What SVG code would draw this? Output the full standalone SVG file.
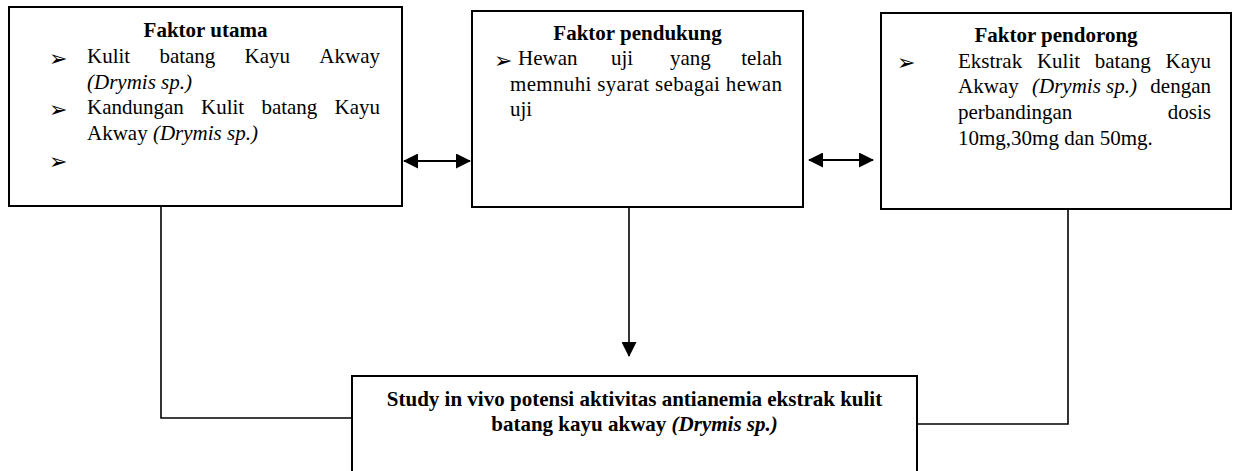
<svg xmlns="http://www.w3.org/2000/svg" width="1236" height="471" viewBox="0 0 1236 471">
<style>
.box{fill:#fff;stroke:#000;stroke-width:2}
.t{font-family:"Liberation Serif","Times New Roman",serif;font-size:21px;fill:#000}
.b{font-weight:bold}
.i{font-style:italic}
.m{text-anchor:middle}
.e{text-anchor:end}
.bul{font-family:"DejaVu Sans",sans-serif;font-size:22px;fill:#000}
.c{fill:none;stroke:#000;stroke-width:1.6}
.a{fill:none;stroke:#000;stroke-width:2}
</style>
<defs>
<marker id="ah" viewBox="0 0 15 15" refX="14" refY="7.5" markerWidth="15" markerHeight="15" orient="auto-start-reverse" markerUnits="userSpaceOnUse">
<path d="M0,0 L15,7.5 L0,15 z" fill="#000"/>
</marker>
</defs>
<g id="connectors">
<polyline class="c" points="161,206 161,418 352,418"/>
<polyline class="c" points="1068,209 1068,424 917,424"/>
<line class="c" x1="629" y1="207" x2="629" y2="356" marker-end="url(#ah)"/>
<line class="a" x1="404" y1="161" x2="470" y2="161" marker-start="url(#ah)" marker-end="url(#ah)"/>
<line class="a" x1="809" y1="160" x2="873" y2="160" marker-start="url(#ah)" marker-end="url(#ah)"/>
</g>
<g id="faktor-utama">
<rect class="box" x="9" y="7" width="393" height="199"/>
<text class="t b m" x="205.5" y="37">Faktor utama</text>
<text class="bul" x="49" y="65.6">➢</text>
<text class="t" x="87" y="63">Kulit</text>
<text class="t" x="159.4" y="63">batang</text>
<text class="t" x="244.6" y="63">Kayu</text>
<text class="t e" x="380" y="63">Akway</text>
<text class="t i" x="87" y="88.5">(Drymis sp.)</text>
<text class="bul" x="49" y="116.6">➢</text>
<text class="t" x="87" y="114">Kandungan</text>
<text class="t" x="201" y="114">Kulit</text>
<text class="t" x="261.4" y="114">batang</text>
<text class="t e" x="380" y="114">Kayu</text>
<text class="t" x="87" y="139.5">Akway <tspan class="i">(Drymis sp.)</tspan></text>
<text class="bul" x="49" y="168.5">➢</text>
</g>
<g id="faktor-pendukung">
<rect class="box" x="472" y="11" width="331" height="196"/>
<text class="t b m" x="637.5" y="40">Faktor pendukung</text>
<text class="bul" x="494" y="67.6">➢</text>
<text class="t" x="518" y="65">Hewan</text>
<text class="t" x="611" y="65">uji</text>
<text class="t" x="670" y="65">yang</text>
<text class="t e" x="782" y="65">telah</text>
<text class="t" x="510" y="90.5" textLength="272" lengthAdjust="spacing">memnuhi syarat sebagai hewan</text>
<text class="t" x="510" y="116">uji</text>
</g>
<g id="faktor-pendorong">
<rect class="box" x="881" y="13" width="350" height="196"/>
<text class="t b m" x="1056" y="42">Faktor pendorong</text>
<text class="bul" x="897" y="70.3">➢</text>
<text class="t" x="958" y="67.7">Ekstrak</text>
<text class="t" x="1036.9" y="67.7">Kulit</text>
<text class="t" x="1094.8" y="67.7">batang</text>
<text class="t e" x="1211" y="67.7">Kayu</text>
<text class="t" x="958" y="93.4">Akway</text>
<text class="t i" x="1032" y="93.4">(Drymis sp.)</text>
<text class="t e" x="1211" y="93.4">dengan</text>
<text class="t" x="958" y="119">perbandingan</text>
<text class="t e" x="1211" y="119">dosis</text>
<text class="t" x="958" y="144.7">10mg,30mg dan 50mg.</text>
</g>
<g id="study">
<rect class="box" x="352" y="376" width="565" height="110"/>
<text class="t b m" x="634.5" y="406">Study in vivo potensi aktivitas antianemia ekstrak kulit</text>
<text class="t b m" x="634.5" y="431">batang kayu akway <tspan class="i">(Drymis sp.)</tspan></text>
</g>
</svg>
